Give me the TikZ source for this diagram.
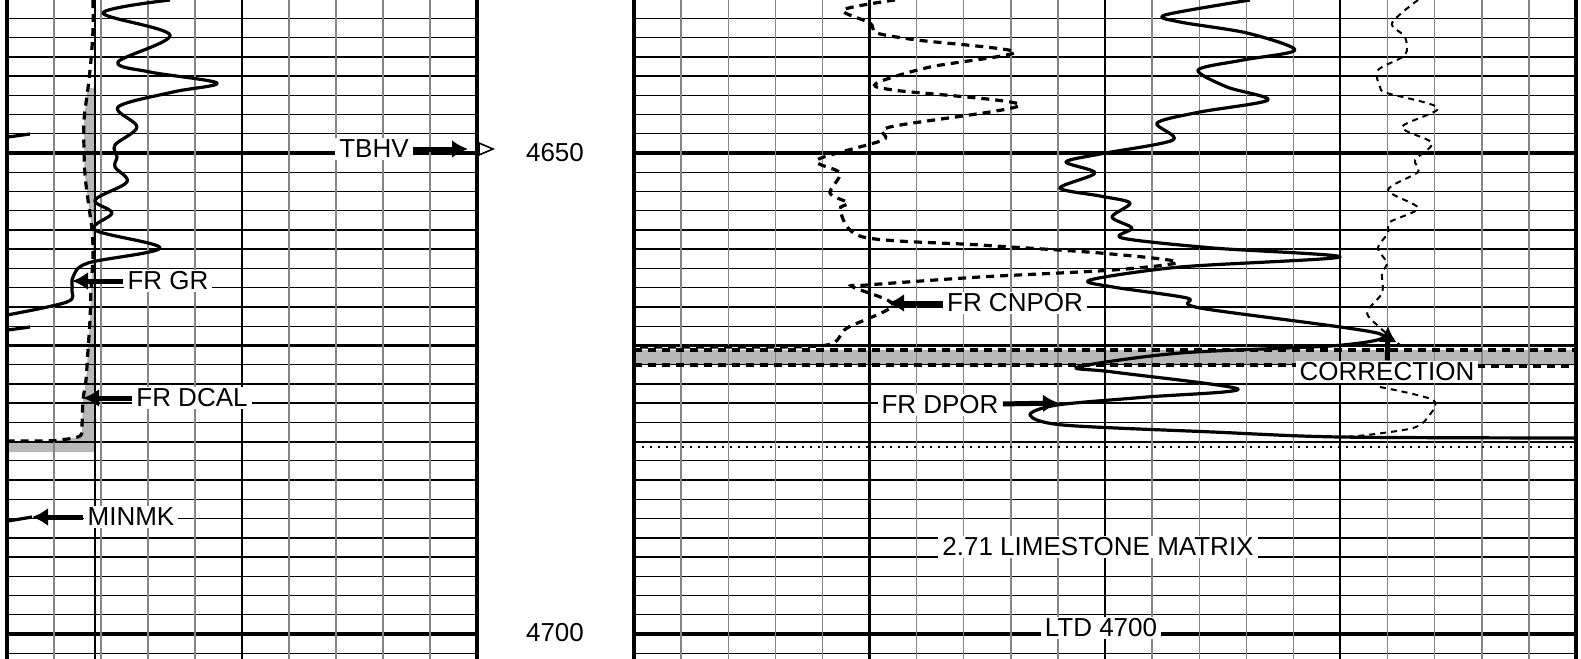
\documentclass[tikz,border=0pt]{standalone}
\usepackage{fontspec}
\setmainfont{Liberation Sans}
\usetikzlibrary{arrows.meta}
\colorlet{grid minor}{black!48}
\colorlet{fill area}{black!28}
\tikzset{
  hline/.style={black, line width=0.65pt},
  hlinemid/.style={black, line width=1.1pt},
  hlinethick/.style={black, line width=1.6pt},
  vline/.style={grid minor, line width=0.7pt},
  vlinethick/.style={black, line width=1.2pt},
  border/.style={black, line width=1.6pt},
  bitline/.style={black, line width=0.6pt},
  solidlog/.style={line width=1.6pt, line join=round},
  dashlog/.style={line width=1.6pt, dash pattern=on 4pt off 3pt},
  thindash/.style={line width=1pt, dash pattern=on 3pt off 2.5pt},
  logtag/.style={fill=white, inner xsep=2pt, inner ysep=1pt, font=\fontsize{13pt}{15pt}\selectfont},
  depthtag/.style={font=\fontsize{13pt}{15pt}\selectfont},
  pointer/.style={-{Latex[length=8pt,width=9pt]}, line width=2.5pt}
}

\begin{document}
\begin{tikzpicture}[x=0.5pt, y=-0.5pt]
    \useasboundingbox (0,0) rectangle (1581,659);
    \fill[fill area] (95,88) -- plot[smooth] coordinates {(88,88) (84,120) (84,150) (85,175) (88,200) (92,230) (93,255) (91,290) (90,320) (88,350) (86,380) (83,400) (82,425) (80,436) (60,440) (43,441) (7,441)} -- (7,452) -- (95,452) -- cycle;
    \fill[fill area] (634,350) rectangle (1576,365);
    \foreach \k in {-7,...,26}
        \draw[hline] (7,{153+\k*19.24}) -- (477,{153+\k*19.24}) (634,{153+\k*19.24}) -- (1576,{153+\k*19.24});
    \foreach \k in {-5,5,10,15,20}
        \draw[hlinemid] (7,{153+\k*19.24}) -- (477,{153+\k*19.24}) (634,{153+\k*19.24}) -- (1576,{153+\k*19.24});
    \foreach \k in {0,25}
        \draw[hlinethick] (7,{153+\k*19.24}) -- (477,{153+\k*19.24}) (634,{153+\k*19.24}) -- (1576,{153+\k*19.24});
    \foreach \i in {1,...,9}
        \draw[vline] ({7+47*\i},0) -- ({7+47*\i},659);
    \foreach \i in {1,...,19}
        \draw[vline] ({634+47.1*\i},0) -- ({634+47.1*\i},659);
    \foreach \x in {242,869.5,1105,1340}
        \draw[vlinethick] (\x,0) -- (\x,659);
    \draw[border] (7,0) -- (7,659) (477,0) -- (477,659) (634,0) -- (634,659) (1576,0) -- (1576,659);
    \draw[bitline] (95,0) -- (95,659);

    \draw[dashlog] plot[smooth] coordinates {(93,0) (93,30) (91,60) (88,88) (84,120) (84,150) (85,175) (88,200) (92,230) (93,255) (91,290) (90,320) (88,350) (86,380) (83,400) (82,425) (80,436) (60,440) (43,441) (7,441)};
    \draw[solidlog] plot[smooth, tension=0.55] coordinates {(170,0) (103,13) (170,35) (118,62) (150,72) (217,83) (173,92) (118,107) (137,127) (115,145) (117,157) (115,167) (127,182) (95,200) (112,213) (95,230) (160,248) (88,263) (73,277) (72,290) (67,302) (7,315)};
    \draw[solidlog] (8,137) -- (30,134) (8,330) -- (30,327);
    \coordinate (minmk tip) at (32,517);
    \draw[solidlog] (8,521) -- (minmk tip);

    \draw[dashlog] plot[smooth, tension=0.5] coordinates {(895,0) (843,10) (870,23) (877,33) (917,40) (1015,52) (930,67) (877,83) (893,90) (1020,105) (890,127) (883,140) (817,160) (840,173) (830,193) (848,203) (840,210) (863,237) (980,245) (1100,253) (1177,262) (1113,270) (980,277) (867,285) (853,287) (893,305) (847,328) (827,345) (740,347) (634,347)};
    \draw[dashlog] (634,350) -- (1576,350) (634,365) -- (1477,365);
    \draw[dashlog, line width=2.2pt] (1477,366) -- (1576,366);
    \draw[solidlog] plot[smooth, tension=0.5] coordinates {(1250,0) (1165,15) (1180,22) (1247,33) (1295,50) (1243,60) (1198,70) (1227,87) (1268,100) (1200,112) (1157,123) (1173,140) (1100,154) (1066,162) (1095,173) (1060,188) (1100,196) (1130,203) (1112,217) (1132,228) (1122,238) (1213,248) (1340,257) (1180,267) (1090,280) (1113,287) (1187,298) (1200,308) (1377,333) (1343,345) (1180,353) (1078,367) (1113,372) (1238,389) (1147,397) (1057,405) (1030,415) (1063,425) (1213,432) (1340,437) (1576,438)};
    \draw[thindash] plot[smooth, tension=0.5] coordinates {(1418,0) (1392,23) (1405,37) (1405,55) (1378,70) (1380,87) (1387,93) (1438,108) (1402,127) (1432,143) (1415,160) (1418,172) (1388,190) (1418,208) (1390,222) (1388,233) (1378,248) (1387,263) (1382,273) (1382,293) (1367,312) (1377,325) (1400,345)};
    \draw[thindash] plot[smooth, tension=0.5] coordinates {(1380,387) (1433,400) (1428,417) (1413,428) (1367,435) (1340,437)};
    \draw[line width=1pt, dash pattern=on 1pt off 3pt] (634,447) -- (1576,447);

    \node[logtag] (tbhv) at (374,149) {TBHV};
    \coordinate (tbhv tip) at (468,149);
    \draw[pointer] (tbhv) -- (tbhv tip);
    \draw[line width=0.8pt, fill=white] (479,143) -- (493,149) -- (479,155) -- cycle;
    \node[logtag] (frgr) at (168,281) {FR GR};
    \coordinate (frgr tip) at (72,281);
    \draw[pointer] (frgr) -- (frgr tip);
    \node[logtag] (frdcal) at (192,398) {FR DCAL};
    \coordinate (frdcal tip) at (83,398);
    \draw[pointer] (frdcal) -- (frdcal tip);
    \node[logtag] (minmk) at (131,517) {MINMK};
    \draw[pointer] (minmk) -- (minmk tip);
    \node[logtag] (frcnpor) at (1015,303) {FR CNPOR};
    \coordinate (frcnpor tip) at (888,303);
    \draw[pointer] (frcnpor) -- (frcnpor tip);
    \node[logtag] (frdpor) at (940,405) {FR DPOR};
    \coordinate (frdpor tip) at (1059,403);
    \draw[pointer] (frdpor) -- (frdpor tip);
    \node[logtag] (correction) at (1387,372) {CORRECTION};
    \coordinate (correction tip) at (1388,326);
    \draw[pointer] (correction) -- (correction tip);
    \node[logtag] (limestone) at (1098,547) {2.71 LIMESTONE MATRIX};
    \node[logtag] (ltd) at (1101,628) {LTD 4700};
    \node[depthtag] (d4650) at (555,153) {4650};
    \node[depthtag] (d4700) at (555,633) {4700};
\end{tikzpicture}
\end{document}
